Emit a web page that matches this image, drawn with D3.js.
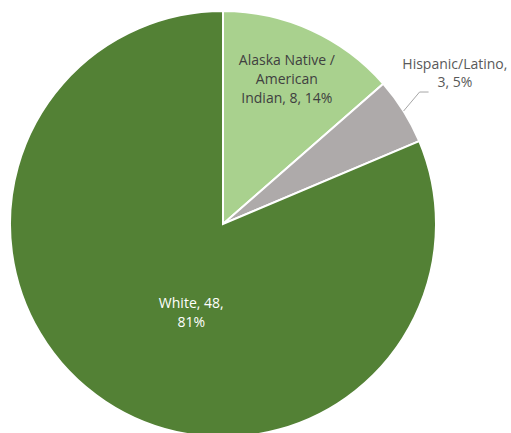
<!DOCTYPE html>
<html lang="en">
<head>
	<meta charset="UTF-8"/>
	<title>Pie chart</title>
	<script src="https://d3js.org/d3.v7.min.js"></script>
	<style>
		body { margin: 0; background: #fff; }
		text { font-family: "Open Sans", sans-serif; font-size: 14px; }
	</style>
</head>
<body>
	<script>
		var w = 511;
		var h = 433;

		// data
		var categories = ["Alaska Native / American Indian", "Hispanic/Latino", "White"];
		var values = [8, 3, 48];
		var colours = ["#a9d18e", "#aeaaaa", "#538135"];

		var cx = 223, cy = 224, radius = 213;
		var total = d3.sum(values);

		var svg = d3.select("body")
					.append("svg")
					.attr("width", w)
					.attr("height", h);

		var g = svg.append("g")
					.attr("transform", "translate(" + cx + "," + cy + ")");

		var pie = d3.pie().sort(null);
		var arc = d3.arc().innerRadius(0).outerRadius(radius);
		var arcs = pie(values);

		g.selectAll("path")
			.data(arcs)
			.enter()
			.append("path")
			.attr("d", arc)
			.attr("fill", function(d, i) { return colours[i]; })
			.attr("stroke", "#fff")
			.attr("stroke-width", 2);

		function pct(v) { return Math.round(v / total * 100) + "%"; }

		// label lines for each slice (Excel-like wrapping)
		var labelLines = [
			["Alaska Native /", "American", "Indian, " + values[0] + ", " + pct(values[0])],
			["Hispanic/Latino,", values[1] + ", " + pct(values[1])],
			["White, " + values[2] + ",", pct(values[2])]
		];
		var labelFill = ["#404040", "#595959", "#ffffff"];

		// where each label sits: radius + angle shift, or outside with leader
		function labelPos(d, i) {
			var a;
			if (i === 0) { a = (d.startAngle + d.endAngle) / 2 - 0.01; return [Math.sin(a) * 158, -Math.cos(a) * 158 - 19]; }
			if (i === 1) { a = (d.startAngle + d.endAngle) / 2; return [Math.sin(a) * 270 + 3, -Math.cos(a) * 270 - 17]; }
			a = 3.49; return [Math.sin(a) * 93, -Math.cos(a) * 93 - 8];
		}

		arcs.forEach(function(d, i) {
			var p = labelPos(d, i);
			var t = g.append("text")
				.attr("text-anchor", "middle")
				.attr("fill", labelFill[i]);
			labelLines[i].forEach(function(line, j) {
				t.append("tspan")
					.attr("x", p[0])
					.attr("y", p[1] + j * (i === 1 ? 18 : 19))
					.attr("dy", "0.35em")
					.text(line);
			});
		});

		// leader line for the small slice
		var mid = (arcs[1].startAngle + arcs[1].endAngle) / 2;
		var p0 = [Math.sin(mid) * radius, -Math.cos(mid) * radius];
		var p1 = [p0[0] + 16, p0[1] - 19];
		var p2 = [p1[0] + 9, p1[1]];
		g.append("polyline")
			.attr("points", [p0, p1, p2].map(function(p) { return p.join(","); }).join(" "))
			.attr("fill", "none")
			.attr("stroke", "#a6a6a6")
			.attr("stroke-width", 1);
	</script>
</body>
</html>
